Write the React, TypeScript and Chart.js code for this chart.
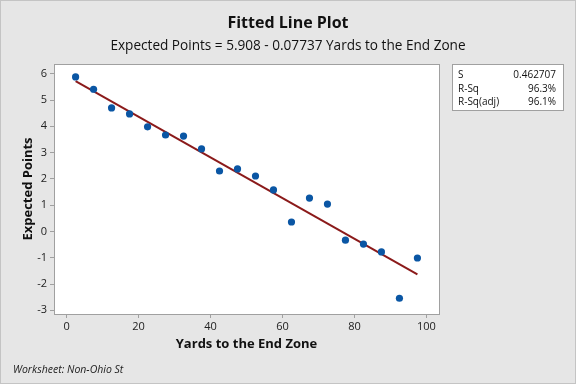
import React, { useEffect, useRef } from "react";
import { Chart, registerables } from "chart.js";

Chart.register(...registerables);

const xValues = [2.5, 7.5, 12.5, 17.5, 22.5, 27.5, 32.5, 37.5, 42.5, 47.5, 52.5, 57.5, 62.5, 67.5, 72.5, 77.5, 82.5, 87.5, 92.5, 97.5];
const yValues = [5.88, 5.41, 4.7, 4.47, 3.98, 3.67, 3.63, 3.14, 2.3, 2.38, 2.11, 1.58, 0.36, 1.27, 1.04, -0.33, -0.48, -0.78, -2.54, -1.01];
const fitX = [2.5, 97.5];
const fitY = [5.715, -1.636];
const xTicks = [0, 20, 40, 60, 80, 100];
const yTicks = [-3, -2, -1, 0, 1, 2, 3, 4, 5, 6];
const statLabels = ["S", "R-Sq", "R-Sq(adj)"];
const statValues = ["0.462707", "96.3%", "96.1%"];

const titleText = "Fitted Line Plot";
const subtitleText = "Expected Points = 5.908 - 0.07737 Yards to the End Zone";
const xTitle = "Yards to the End Zone";
const yTitle = "Expected Points";
const footText = "Worksheet: Non-Ohio St";

const FONT = "'Open Sans', 'Noto Sans', sans-serif";

export default function App() {
  const ref = useRef<HTMLCanvasElement | null>(null);

  useEffect(() => {
    document.body.style.margin = "0";
    const canvas = ref.current;
    if (!canvas) return;

    const decor = {
      id: "decor",
      beforeDraw(chart: any) {
        const { ctx, chartArea: a } = chart;
        ctx.save();
        ctx.fillStyle = "#e6e6e6";
        ctx.fillRect(0, 0, chart.width, chart.height);
        ctx.strokeStyle = "#c4c4c4";
        ctx.lineWidth = 1;
        ctx.strokeRect(0.5, 0.5, chart.width - 1, chart.height - 1);
        ctx.fillStyle = "#ffffff";
        ctx.fillRect(a.left, a.top, a.right - a.left, a.bottom - a.top);
        ctx.restore();
      },
      afterDraw(chart: any) {
        const { ctx, chartArea: a } = chart;
        ctx.save();
        ctx.strokeStyle = "#a0a0a0";
        ctx.lineWidth = 1;
        ctx.strokeRect(Math.round(a.left) + 0.5, Math.round(a.top) + 0.5, Math.round(a.right - a.left), Math.round(a.bottom - a.top));

        ctx.fillStyle = "#111";
        ctx.textAlign = "center";
        ctx.textBaseline = "middle";
        ctx.font = `bold 16px ${FONT}`;
        ctx.fillText(titleText, 288, 23);
        ctx.font = `13.6px ${FONT}`;
        ctx.fillText(subtitleText, 288, 46);

        ctx.font = `bold 13px ${FONT}`;
        ctx.fillText(xTitle, (a.left + a.right) / 2, 344);
        ctx.save();
        ctx.translate(28, (a.top + a.bottom) / 2);
        ctx.rotate(-Math.PI / 2);
        ctx.fillText(yTitle, 0, 0);
        ctx.restore();

        ctx.textAlign = "left";
        ctx.font = `italic 10.5px ${FONT}`;
        ctx.fillStyle = "#222";
        ctx.fillText(footText, 13, 370);

        // stats box
        const bx = 452, by = 64, bw = 111, bh = 46;
        ctx.fillStyle = "#ffffff";
        ctx.fillRect(bx, by, bw, bh);
        ctx.strokeStyle = "#a0a0a0";
        ctx.strokeRect(bx + 0.5, by + 0.5, bw, bh);
        ctx.font = `10px ${FONT}`;
        ctx.fillStyle = "#111";
        const rows = [75, 89, 102];
        statLabels.forEach((l, i) => {
          ctx.textAlign = "left";
          ctx.fillText(l, 458, rows[i]);
          ctx.textAlign = "right";
          ctx.fillText(statValues[i], 556, rows[i]);
        });
        ctx.restore();
      },
    };

    const chart = new Chart(canvas, {
      type: "scatter",
      data: {
        datasets: [
          {
            type: "line",
            data: fitX.map((x, i) => ({ x, y: fitY[i] })),
            borderColor: "#8b1a1a",
            borderWidth: 2,
            pointRadius: 0,
            fill: false,
            order: 2,
          } as any,
          {
            data: xValues.map((x, i) => ({ x, y: yValues[i] })),
            backgroundColor: "#0a56a4",
            borderColor: "#0a56a4",
            pointRadius: 3.6,
            pointBorderWidth: 0,
            order: 1,
          },
        ],
      },
      options: {
        animation: false,
        responsive: false,
        devicePixelRatio: 1,
        layout: { padding: { top: 64, left: 0, right: 137, bottom: 20 } },
        plugins: { legend: { display: false }, tooltip: { enabled: false }, title: { display: false } },
        scales: {
          x: {
            type: "linear",
            min: -3.5,
            max: 103.5,
            afterBuildTicks: (s: any) => { s.ticks = xTicks.map((v) => ({ value: v })); },
            afterFit: (s: any) => { s.height = 50; },
            grid: { display: true, drawOnChartArea: false, drawTicks: true, tickLength: 4, color: "#a0a0a0" },
            border: { display: false },
            ticks: { color: "#222", font: { family: FONT, size: 11 }, padding: 2, maxRotation: 0 },
          },
          y: {
            type: "linear",
            min: -3.14,
            max: 6.37,
            afterBuildTicks: (s: any) => { s.ticks = yTicks.map((v) => ({ value: v })); },
            afterFit: (s: any) => { s.width = 54; },
            grid: { display: true, drawOnChartArea: false, drawTicks: true, tickLength: 4, color: "#a0a0a0" },
            border: { display: false },
            ticks: { color: "#222", font: { family: FONT, size: 11 }, padding: 3 },
          },
        },
      },
      plugins: [decor],
    } as any);

    return () => chart.destroy();
  }, []);

  return <canvas ref={ref} width={576} height={384} style={{ display: "block" }} />;
}
